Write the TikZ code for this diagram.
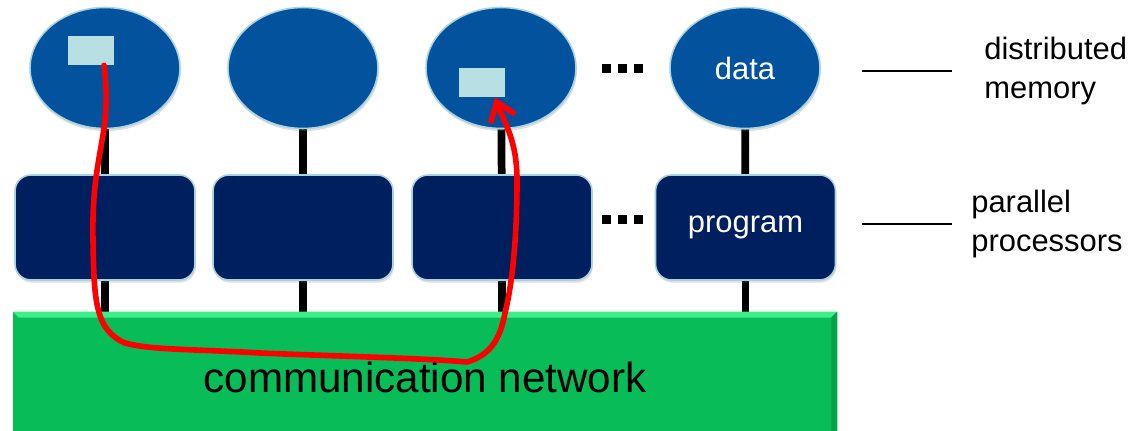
\documentclass[tikz,border=0pt]{standalone}
\usepackage{fontspec}
\setmainfont{Liberation Sans}
\usetikzlibrary{shapes.geometric,shadows,backgrounds,arrows.meta}

\definecolor{memblue}{HTML}{02529E}
\definecolor{procblue}{HTML}{001F5E}
\definecolor{cellblue}{HTML}{B8DFE2}
\definecolor{rimblue}{HTML}{A9D3DF}
\definecolor{netgreen}{HTML}{08BC58}
\definecolor{bevelgreen}{HTML}{3DEE8A}
\definecolor{msgred}{HTML}{FF0000}

\tikzset{
  mem/.style={ellipse, fill=memblue, draw=rimblue, line width=0.9pt,
    minimum width=3cm, minimum height=2.42cm, inner sep=0pt, text=white,
    font=\fontsize{17.6}{20}\selectfont,
    drop shadow={opacity=0.25, shadow xshift=0.5pt, shadow yshift=-1.5pt}},
  proc/.style={rectangle, rounded corners=0.32cm, fill=procblue, draw=rimblue,
    line width=0.9pt, minimum width=3.6cm, minimum height=2.1cm, inner sep=0pt,
    text=white, font=\fontsize{17.6}{20}\selectfont,
    drop shadow={opacity=0.25, shadow xshift=0.5pt, shadow yshift=-1.5pt}},
  cell/.style={rectangle, fill=cellblue, minimum width=0.92cm,
    minimum height=0.58cm, inner sep=0pt},
  net/.style={rectangle, fill=netgreen, minimum width=16.48cm,
    minimum height=2.38cm, inner sep=0pt},
  stem/.style={line width=4.4pt},
  tick/.style={line width=0.9pt},
  lbl/.style={align=left, anchor=west, inner sep=0pt,
    font=\fontsize{17.6}{22.7}\selectfont},
  msg/.style={draw=msgred, line width=3.2pt, line cap=round, line join=round,
    -{Straight Barb[length=0.36cm, width=0.52cm]}}
}

\begin{document}
\begin{tikzpicture}[x=0.02cm, y=-0.02cm]
  \useasboundingbox (0,0) rectangle (1147,431);

  \node[net] (net) at (425,371.5) {};
  \fill[bevelgreen] (net.north west) -- (net.north east)
    -- ([xshift=-0.12cm,yshift=-0.12cm]net.north east)
    -- ([xshift=0.12cm,yshift=-0.12cm]net.north west) -- cycle;
  \fill[netgreen!85!black] (net.north east) -- (net.south east)
    -- ([xshift=-0.12cm]net.south east)
    -- ([xshift=-0.12cm,yshift=-0.12cm]net.north east) -- cycle;
  \node[font=\fontsize{24}{28}\selectfont, inner sep=0pt] (nettitle) at (425,377) {communication network};

  \node[mem] (mem1) at (105,68) {};
  \node[mem] (mem2) at (303,68) {};
  \node[mem] (mem3) at (501,68) {};
  \node[mem] (mem4) at (745,68) {data};

  \node[proc] (proc1) at (105,227.5) {};
  \node[proc] (proc2) at (303,227.5) {};
  \node[proc] (proc3) at (502,227.5) {};
  \node[proc] (proc4) at (745.5,227.5) {program};

  \begin{scope}[on background layer]
    \foreach \i in {1,...,4} {
      \draw[stem] (mem\i) -- (proc\i);
      \draw[stem] (proc\i) -- (proc\i |- net.north);
    }
  \end{scope}

  \coordinate (gap1) at (622.5,69);
  \coordinate (gap2) at (622.5,220);
  \foreach \g in {gap1,gap2}
    \foreach \dx in {-16,0,16}
      \fill[shift={(\g)}] (\dx-4.5,-4.5) rectangle (\dx+4.5,4.5);

  \node[cell] (cell1) at (91,50.5) {};
  \node[cell] (cell3) at (482,82.5) {};

  \node[lbl] (memlbl) at (984,71) {distributed\\memory};
  \node[lbl] (proclbl) at (971,224) {parallel\\processors};
  \draw[tick] ([xshift=-0.64cm]memlbl.west) -- ++(-90,0);
  \draw[tick] ([xshift=-0.38cm]proclbl.west) -- ++(-90,0);

  \draw[msg] ([xshift=0.26cm]cell1.south)
    .. controls (107,90) and (107,110) .. (103,135)
    .. controls (98,165) and (92,190) .. (93,240)
    .. controls (94,300) and (95,330) .. (125,343)
    .. controls (150,350) and (190,349) .. (260,353)
    .. controls (330,356) and (420,358) .. (467,362)
    .. controls (490,355) and (500,340) .. (505,313)
    .. controls (512,285) and (517,240) .. (517,180)
    .. controls (517,140) and (504,122) .. ([xshift=0.26cm]cell3.south);
\end{tikzpicture}
\end{document}
